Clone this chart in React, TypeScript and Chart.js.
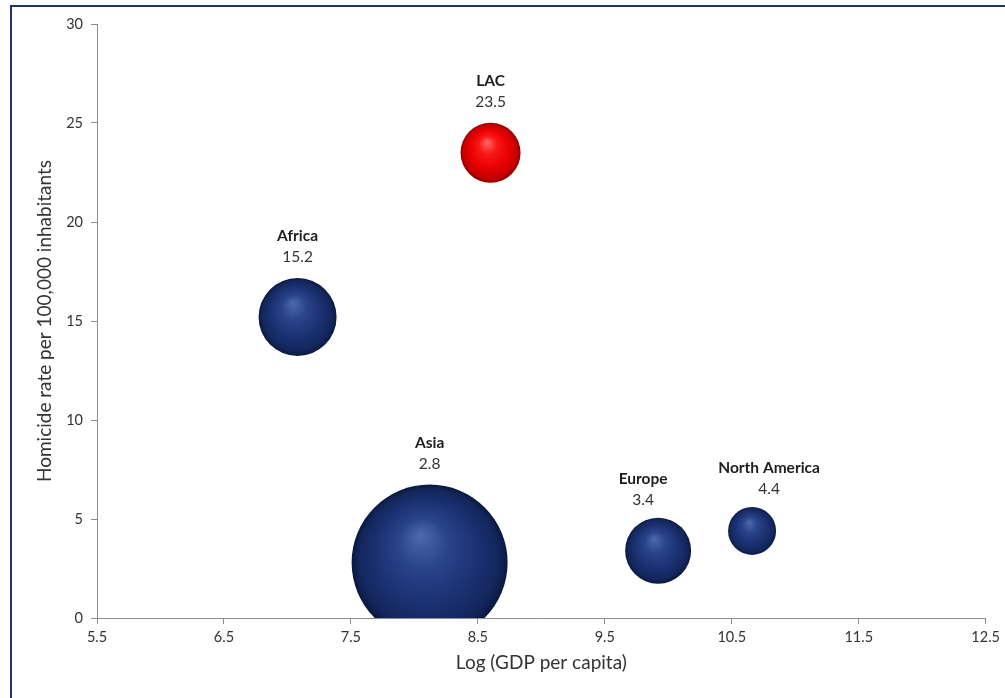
import React, { useEffect, useRef } from "react";
import { Chart, registerables } from "chart.js";

Chart.register(...registerables);

// ---- data ----
const regions = ["Africa", "LAC", "Asia", "Europe", "North America"];
const logGdpPerCapita = [7.08, 8.6, 8.12, 9.92, 10.66];
const homicideRate = [15.2, 23.5, 2.8, 3.4, 4.4];
const bubbleSize = [39, 30, 78, 33, 24];
const highlighted = ["LAC"];
const xTickValues = [5.5, 6.5, 7.5, 8.5, 9.5, 10.5, 11.5, 12.5];
const yTickValues = [0, 5, 10, 15, 20, 25, 30];

const FONT = "Lato, 'Open Sans', sans-serif";

// label nudges (style only)
const labelShiftX: Record<string, number> = { Europe: -15, "North America": 17 };
const labelShiftY: Record<string, number> = { Europe: 3, "North America": 3 };

function sphere(c: any) {
  const name = regions[c.dataIndex];
  const red = highlighted.includes(name);
  const flat = red ? "#e00000" : "#1a2e6c";
  if (c.type !== "data" || !c.raw) return flat;
  const chart = c.chart;
  const xs = chart.scales && chart.scales.x;
  const ys = chart.scales && chart.scales.y;
  if (!xs || !ys) return flat;
  const cx = xs.getPixelForValue(c.raw.x);
  const cy = ys.getPixelForValue(c.raw.y);
  const r = c.raw.r;
  if (![cx, cy, r].every((v) => Number.isFinite(v))) return flat;
  const g = chart.ctx.createRadialGradient(cx - 0.12 * r, cy - 0.36 * r, 0, cx, cy, r);
  if (red) {
    g.addColorStop(0, "#ff6a6a");
    g.addColorStop(0.3, "#f81818");
    g.addColorStop(0.65, "#e80000");
    g.addColorStop(0.9, "#c40000");
    g.addColorStop(1, "#8a0000");
  } else {
    g.addColorStop(0, "#4d6aac");
    g.addColorStop(0.32, "#2a4489");
    g.addColorStop(0.65, "#1b3172");
    g.addColorStop(0.9, "#13265c");
    g.addColorStop(1, "#0a183f");
  }
  return g;
}

const labelPlugin = {
  id: "bubbleLabels",
  afterDatasetsDraw(chart: any) {
    const ctx = chart.ctx;
    const meta = chart.getDatasetMeta(0);
    meta.data.forEach((el: any, i: number) => {
      const name = regions[i];
      const r = el.options.radius;
      const top = el.y - r;
      const x = el.x + (labelShiftX[name] || 0);
      const dy = labelShiftY[name] || 0;
      ctx.save();
      ctx.textAlign = "center";
      ctx.textBaseline = "middle";
      ctx.fillStyle = "#1e1e1e";
      ctx.font = `bold 15.5px ${FONT}`;
      ctx.fillText(name, x, top - 42 + dy);
      ctx.fillStyle = "#333333";
      ctx.font = `15.5px ${FONT}`;
      ctx.fillText(homicideRate[i].toFixed(1), x, top - 21 + dy);
      ctx.restore();
    });
  },
};

export default function App() {
  const ref = useRef<HTMLCanvasElement>(null);

  useEffect(() => {
    if (!ref.current) return;
    const chart = new Chart(ref.current, {
      type: "bubble",
      data: {
        datasets: [
          {
            label: "Regions",
            data: regions.map((_, i) => ({
              x: logGdpPerCapita[i],
              y: homicideRate[i],
              r: bubbleSize[i],
            })),
            backgroundColor: sphere as any,
            borderWidth: 0,
            clip: 0 as any,
          },
        ],
      },
      options: {
        responsive: false,
        animation: false,
        events: [],
        layout: { autoPadding: false, padding: { top: 24, right: 17, bottom: 0, left: 0 } },
        plugins: {
          legend: { display: false },
          tooltip: { enabled: false },
        },
        scales: {
          x: {
            type: "linear",
            min: 5.5,
            max: 12.5,
            afterBuildTicks: (s: any) => {
              s.ticks = xTickValues.map((v) => ({ value: v }));
            },
            afterFit: (s: any) => {
              s.height = 80;
            },
            grid: {
              drawOnChartArea: false,
              drawTicks: true,
              tickLength: 6,
              color: "#8c8c8c",
            },
            border: { display: true, color: "#8c8c8c", width: 1 },
            ticks: {
              padding: 5,
              color: "#333333",
              font: { family: FONT, size: 14.5 },
              callback: (v: any) => Number(v).toFixed(1),
              maxRotation: 0,
            },
            title: {
              display: true,
              text: "Log (GDP per capita)",
              color: "#333333",
              font: { family: FONT, size: 19 },
              padding: { top: 0, bottom: 24 },
            },
          },
          y: {
            type: "linear",
            min: 0,
            max: 30,
            afterBuildTicks: (s: any) => {
              s.ticks = yTickValues.map((v) => ({ value: v }));
            },
            afterFit: (s: any) => {
              s.width = 97;
            },
            grid: {
              drawOnChartArea: false,
              drawTicks: true,
              tickLength: 6,
              color: "#8c8c8c",
            },
            border: { display: true, color: "#8c8c8c", width: 1 },
            ticks: {
              padding: 8,
              color: "#333333",
              font: { family: FONT, size: 14.5 },
            },
            title: {
              display: true,
              text: "Homicide rate per 100,000 inhabitants",
              color: "#333333",
              font: { family: FONT, size: 19 },
              padding: { top: 33, bottom: 0 },
            },
          },
        },
      },
      plugins: [labelPlugin],
    });
    return () => chart.destroy();
  }, []);

  return (
    <div
      style={{
        position: "fixed",
        left: 0,
        top: 0,
        width: 1005,
        height: 698,
        background: "#ffffff",
        overflow: "hidden",
      }}
    >
      <canvas ref={ref} width={1005} height={698} style={{ position: "absolute", left: 0, top: 0 }} />
      <div
        style={{
          position: "absolute",
          left: 10,
          top: 5,
          right: -4,
          bottom: -4,
          borderLeft: "2px solid #22306a",
          borderTop: "2px solid #22306a",
          pointerEvents: "none",
        }}
      />
    </div>
  );
}
